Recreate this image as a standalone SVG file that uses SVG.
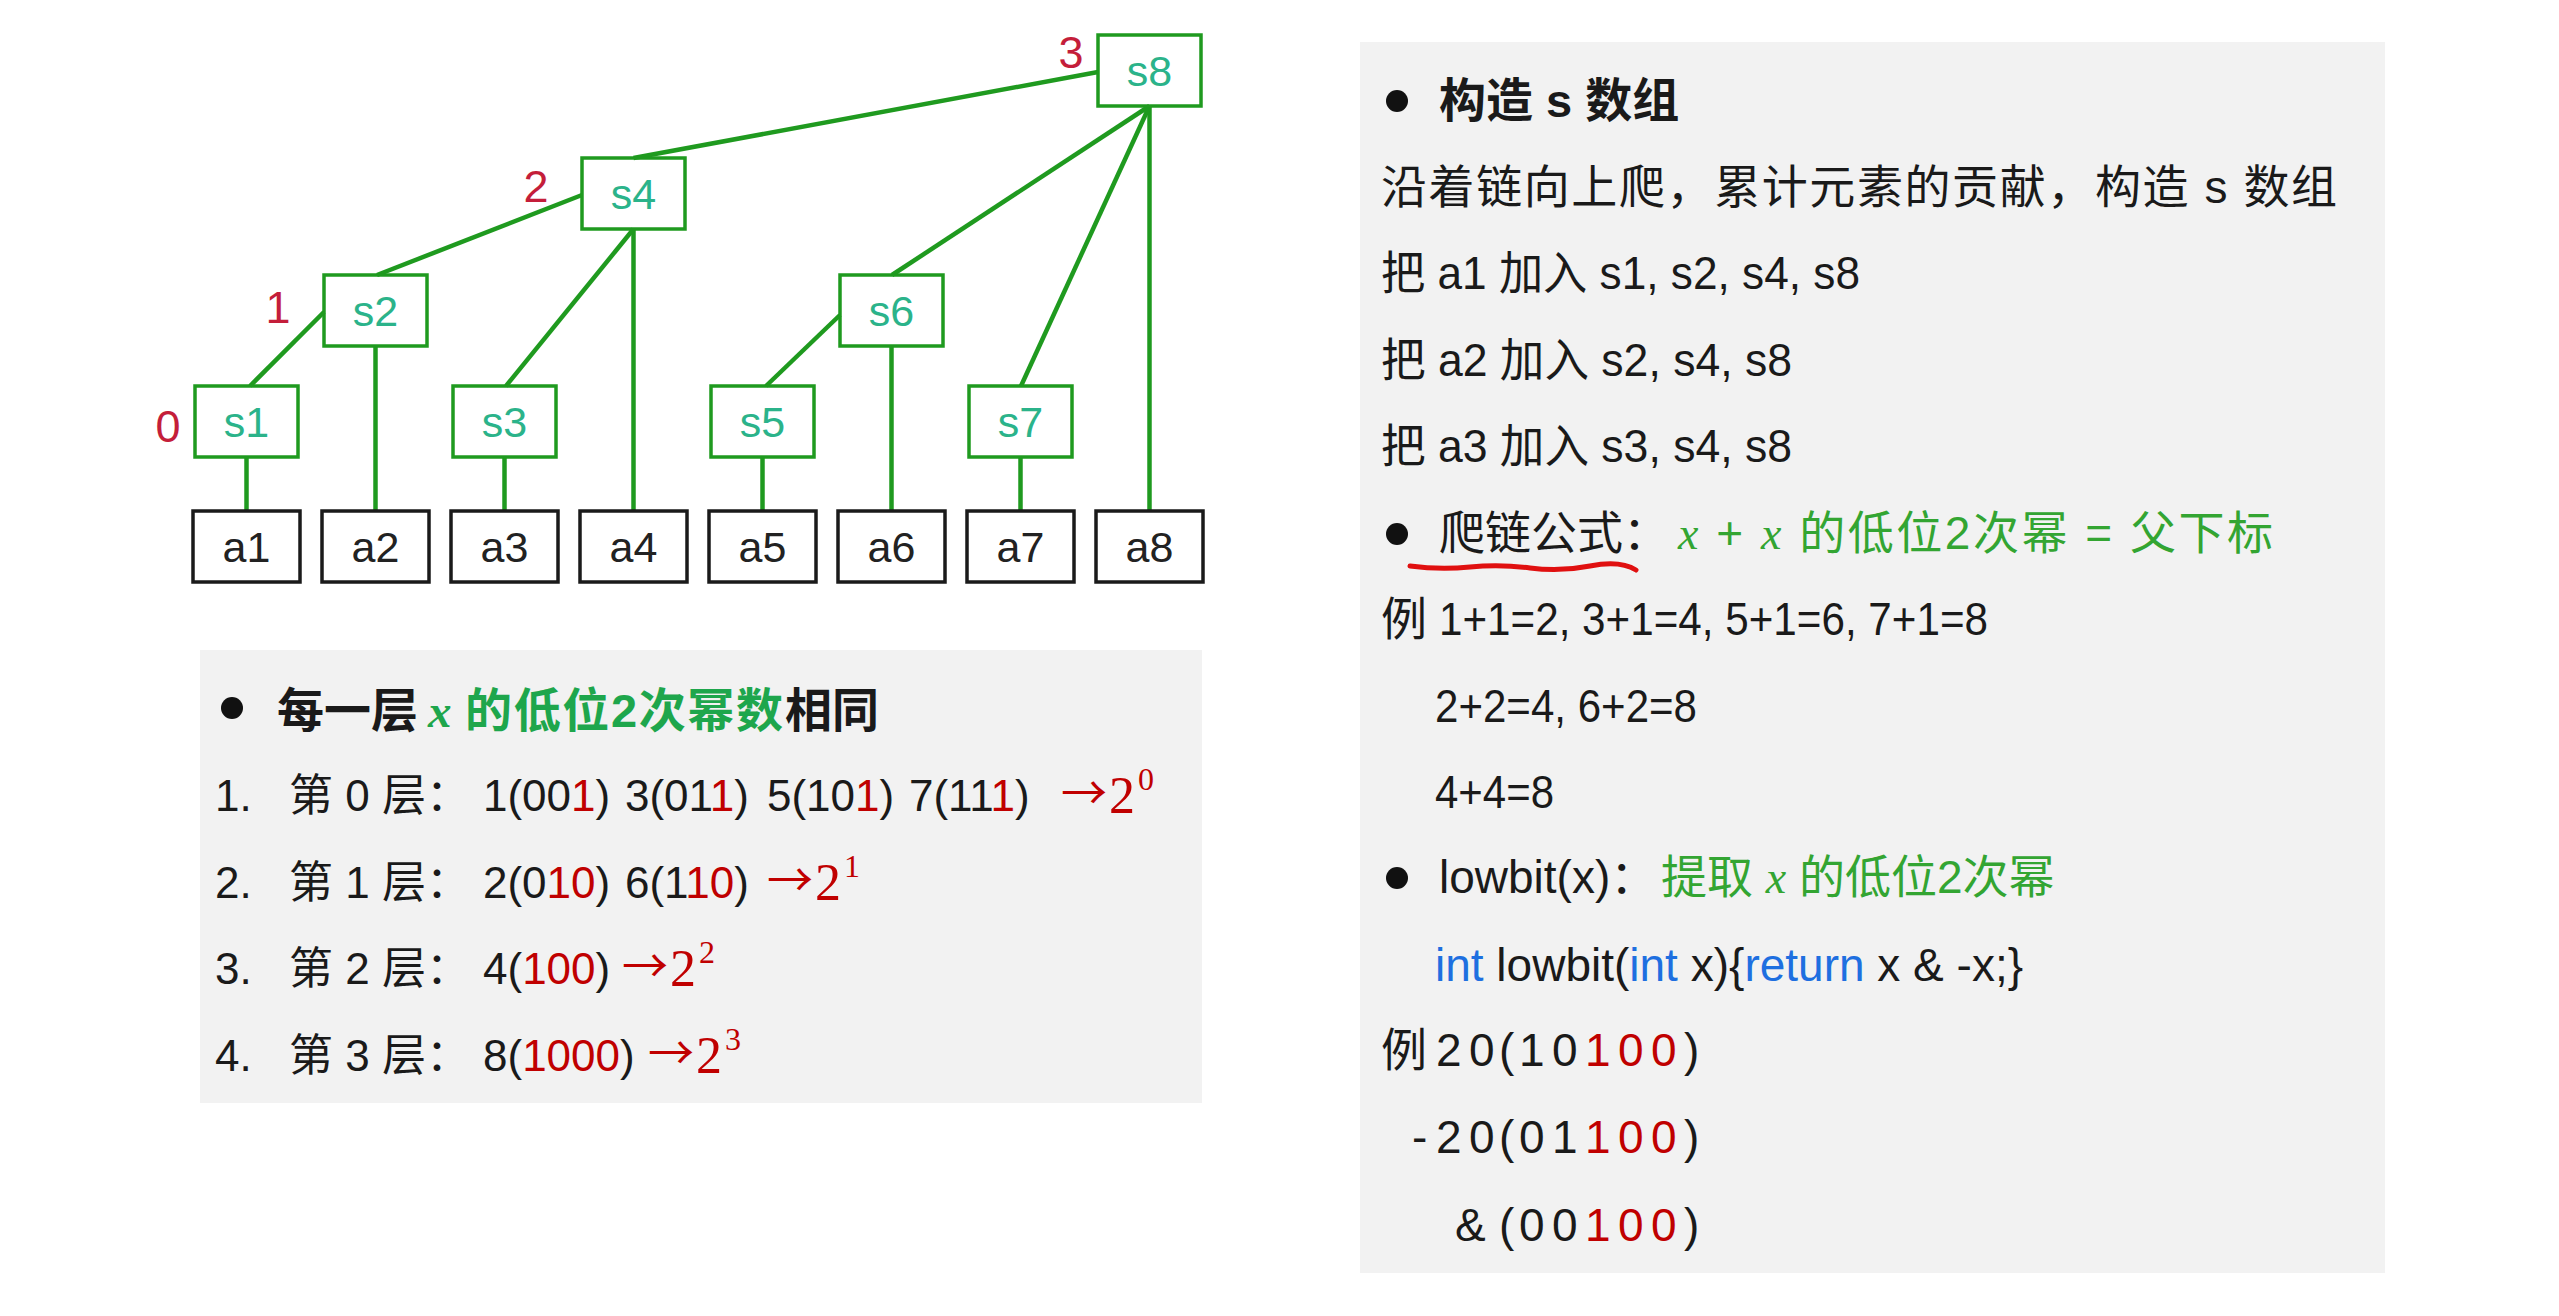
<svg xmlns="http://www.w3.org/2000/svg" width="2559" height="1316" viewBox="0 0 2559 1316">
<style>
text{font-family:"Liberation Sans","Noto Sans CJK SC",sans-serif;fill:#1a1a1a}
.sbox{fill:none;stroke:#1f9a1f;stroke-width:3.5}
.abox{fill:#fff;stroke:#1a1a1a;stroke-width:3.5}
.slab{font-size:43px;fill:#2bb38a;text-anchor:middle}
.alab{font-size:43px;fill:#222;text-anchor:middle}
.lvl{font-size:45px;fill:#c41e3a;text-anchor:middle}
.panel{fill:#f2f2f2}
.h{font-size:47px;font-weight:bold}
.lb{font-size:44px}
.rb{font-size:46px}
.r{fill:#c00000}
.g{fill:#1ea64c}
.g2{fill:#33a532}
.b{fill:#1e6fe0}
.mx{font-family:"Liberation Serif",serif;font-style:italic}
.arr{font-family:"Noto Sans CJK SC",sans-serif;font-size:46px;fill:#c00000}
.sup2{font-family:"Liberation Serif",serif;fill:#c00000}
</style>
<rect width="2559" height="1316" fill="#fff"/>

<g id="connectors" stroke="#1f9a1f" stroke-width="4.5" fill="none">
<line x1="246.5" y1="457" x2="246.5" y2="511"/>
<line x1="375.5" y1="346" x2="375.5" y2="511"/>
<line x1="504.5" y1="457" x2="504.5" y2="511"/>
<line x1="633.5" y1="229" x2="633.5" y2="511"/>
<line x1="762.5" y1="457" x2="762.5" y2="511"/>
<line x1="891.5" y1="346" x2="891.5" y2="511"/>
<line x1="1020.5" y1="457" x2="1020.5" y2="511"/>
<line x1="1149.5" y1="106" x2="1149.5" y2="511"/>
<line x1="250" y1="386" x2="324" y2="312"/>
<line x1="377" y1="275" x2="582" y2="195"/>
<line x1="506" y1="386" x2="633.5" y2="229"/>
<line x1="633.5" y1="158" x2="1098" y2="72"/>
<line x1="766" y1="386" x2="840" y2="315"/>
<line x1="892" y1="275" x2="1149.5" y2="106"/>
<line x1="1021" y1="386" x2="1149.5" y2="106"/>
</g>

<g id="s1"><rect class="sbox" x="195" y="386" width="103" height="71"/><text class="slab" x="246.5" y="437">s1</text></g>
<g id="s2"><rect class="sbox" x="324" y="275" width="103" height="71"/><text class="slab" x="375.5" y="326">s2</text></g>
<g id="s3"><rect class="sbox" x="453" y="386" width="103" height="71"/><text class="slab" x="504.5" y="437">s3</text></g>
<g id="s4"><rect class="sbox" x="582" y="158" width="103" height="71"/><text class="slab" x="633.5" y="209">s4</text></g>
<g id="s5"><rect class="sbox" x="711" y="386" width="103" height="71"/><text class="slab" x="762.5" y="437">s5</text></g>
<g id="s6"><rect class="sbox" x="840" y="275" width="103" height="71"/><text class="slab" x="891.5" y="326">s6</text></g>
<g id="s7"><rect class="sbox" x="969" y="386" width="103" height="71"/><text class="slab" x="1020.5" y="437">s7</text></g>
<g id="s8"><rect class="sbox" x="1098" y="35" width="103" height="71"/><text class="slab" x="1149.5" y="86">s8</text></g>

<g id="a1"><rect class="abox" x="193" y="511" width="107" height="71"/><text class="alab" x="246.5" y="562">a1</text></g>
<g id="a2"><rect class="abox" x="322" y="511" width="107" height="71"/><text class="alab" x="375.5" y="562">a2</text></g>
<g id="a3"><rect class="abox" x="451" y="511" width="107" height="71"/><text class="alab" x="504.5" y="562">a3</text></g>
<g id="a4"><rect class="abox" x="580" y="511" width="107" height="71"/><text class="alab" x="633.5" y="562">a4</text></g>
<g id="a5"><rect class="abox" x="709" y="511" width="107" height="71"/><text class="alab" x="762.5" y="562">a5</text></g>
<g id="a6"><rect class="abox" x="838" y="511" width="107" height="71"/><text class="alab" x="891.5" y="562">a6</text></g>
<g id="a7"><rect class="abox" x="967" y="511" width="107" height="71"/><text class="alab" x="1020.5" y="562">a7</text></g>
<g id="a8"><rect class="abox" x="1096" y="511" width="107" height="71"/><text class="alab" x="1149.5" y="562">a8</text></g>

<g id="levels">
<text class="lvl" x="168" y="442">0</text>
<text class="lvl" x="278" y="323">1</text>
<text class="lvl" x="536" y="202">2</text>
<text class="lvl" x="1071" y="68">3</text>
</g>

<g id="left-panel">
<rect class="panel" x="200" y="650" width="1002" height="453"/>
<circle cx="232" cy="708" r="11" fill="#111"/>
<text class="h" x="277" y="727">每一层</text>
<text class="h g mx" x="428" y="727">x</text>
<text class="h g" x="465" y="727" textLength="318">的低位2次幂数</text>
<text class="h" x="785" y="727">相同</text>

<text class="lb" x="215" y="811">1.</text>
<text class="lb" x="289" y="811">第 0 层：</text>
<text class="lb" x="483" y="811">1(00<tspan class="r">1</tspan>)</text>
<text class="lb" x="625" y="811">3(01<tspan class="r">1</tspan>)</text>
<text class="lb" x="767" y="811">5(10<tspan class="r">1</tspan>)</text>
<text class="lb" x="909" y="811">7(11<tspan class="r">1</tspan>)</text>
<text class="arr" x="1061" y="809">→</text>
<text class="sup2" font-size="52" x="1109" y="813">2</text>
<text class="sup2" font-size="32" x="1138" y="790">0</text>

<text class="lb" x="215" y="898">2.</text>
<text class="lb" x="289" y="898">第 1 层：</text>
<text class="lb" x="483" y="898">2(0<tspan class="r">10</tspan>)</text>
<text class="lb" x="625" y="898">6(1<tspan class="r">10</tspan>)</text>
<text class="arr" x="767" y="896">→</text>
<text class="sup2" font-size="52" x="815" y="900">2</text>
<text class="sup2" font-size="32" x="844" y="877">1</text>

<text class="lb" x="215" y="984">3.</text>
<text class="lb" x="289" y="984">第 2 层：</text>
<text class="lb" x="483" y="984">4(<tspan class="r">100</tspan>)</text>
<text class="arr" x="622" y="982">→</text>
<text class="sup2" font-size="52" x="670" y="986">2</text>
<text class="sup2" font-size="32" x="699" y="963">2</text>

<text class="lb" x="215" y="1071">4.</text>
<text class="lb" x="289" y="1071">第 3 层：</text>
<text class="lb" x="483" y="1071">8(<tspan class="r">1000</tspan>)</text>
<text class="arr" x="648" y="1069">→</text>
<text class="sup2" font-size="52" x="696" y="1073">2</text>
<text class="sup2" font-size="32" x="725" y="1050">3</text>
</g>

<g id="right-panel">
<rect class="panel" x="1360" y="42" width="1025" height="1231"/>
<circle cx="1397" cy="101" r="11" fill="#111"/>
<text class="h" x="1439" y="117">构造 s 数组</text>
<text class="rb" x="1381" y="203" textLength="956">沿着链向上爬，累计元素的贡献，构造 s 数组</text>
<text class="rb" x="1381" y="289" textLength="479" lengthAdjust="spacingAndGlyphs">把 a1 加入 s1, s2, s4, s8</text>
<text class="rb" x="1381" y="376" textLength="411" lengthAdjust="spacingAndGlyphs">把 a2 加入 s2, s4, s8</text>
<text class="rb" x="1381" y="462" textLength="411" lengthAdjust="spacingAndGlyphs">把 a3 加入 s3, s4, s8</text>

<circle cx="1397" cy="534" r="11" fill="#111"/>
<text class="rb" x="1439" y="549">爬链公式：</text>
<text class="rb g2" x="1678" y="549" textLength="595"><tspan class="mx">x</tspan> + <tspan class="mx">x</tspan> 的低位2次幂 = 父下标</text>
<path d="M1410 566 Q1440 570 1470 567 T1530 568 T1590 566 T1636 570" fill="none" stroke="#e01010" stroke-width="5" stroke-linecap="round"/>

<text class="rb" x="1381" y="635">例</text>
<text class="rb" x="1439" y="635" textLength="549" lengthAdjust="spacingAndGlyphs">1+1=2, 3+1=4, 5+1=6, 7+1=8</text>
<text class="rb" x="1435" y="722" textLength="262" lengthAdjust="spacingAndGlyphs">2+2=4, 6+2=8</text>
<text class="rb" x="1435" y="808" textLength="119" lengthAdjust="spacingAndGlyphs">4+4=8</text>

<circle cx="1397" cy="878" r="11" fill="#111"/>
<text class="rb" x="1439" y="893">lowbit(x)：</text>
<text class="rb g2" x="1661" y="893">提取 <tspan class="mx">x</tspan> 的低位2次幂</text>

<text class="rb" x="1435" y="981"><tspan class="b">int</tspan> lowbit(<tspan class="b">int</tspan> x){<tspan class="b">return</tspan> x &amp; -x;}</text>

<text class="rb" x="1381" y="1066">例</text>
<text class="rb" x="1436 1469 1499 1519 1552" y="1066">20(10<tspan class="r" x="1585 1618 1651">100</tspan><tspan x="1684">)</tspan></text>
<text class="rb" x="1412 1436 1469 1499 1519 1552" y="1153">-20(01<tspan class="r" x="1585 1618 1651">100</tspan><tspan x="1684">)</tspan></text>
<text class="rb" x="1455 1499 1519 1552" y="1241">&amp;(00<tspan class="r" x="1585 1618 1651">100</tspan><tspan x="1684">)</tspan></text>
</g>
</svg>
